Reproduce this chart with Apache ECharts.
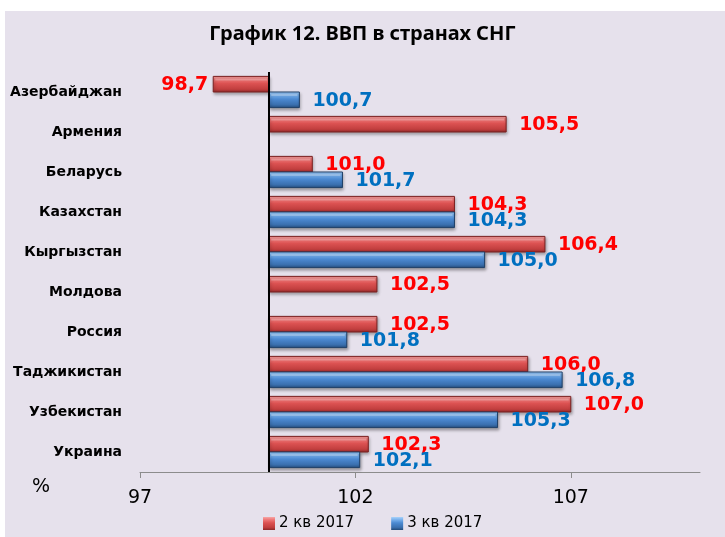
<!DOCTYPE html>
<html>
<head>
<meta charset="utf-8">
<script src="https://cdn.jsdelivr.net/npm/echarts@6/dist/echarts.min.js"></script>
<style>html,body{margin:0;padding:0;background:#fff;}#c{width:725px;height:537px;}</style>
</head>
<body>
<div id="c"></div>
<script>
const categories = ['Азербайджан','Армения','Беларусь','Казахстан','Кыргызстан','Молдова','Россия','Таджикистан','Узбекистан','Украина'];
const q2 = [98.7,105.5,101.0,104.3,106.4,102.5,102.5,106.0,107.0,102.3];
const q3 = [100.7,null,101.7,104.3,105.0,null,101.8,106.8,105.3,102.1];
const baseline = 100;
const xTicks = [97,102,107];
const seriesNames = ['2 кв 2017','3 кв 2017'];

function grad(stops){
  return new echarts.graphic.LinearGradient(0,0,0,1, stops.map((c,i)=>({offset:c[0], color:c[1]})));
}
const redStops = [[0,'#f6a6a6'],[0.18,'#f07c7c'],[0.45,'#dc5252'],[0.8,'#c13e3e'],[1,'#8c2828']];
const blueStops = [[0,'#a9d2fa'],[0.18,'#7db4ee'],[0.45,'#4c8ad2'],[0.8,'#3a6fae'],[1,'#234a78']];

function toData(arr){
  const out = [];
  arr.forEach((v,i)=>{ if(v!==null) out.push([v,i]); });
  return out;
}
function fmt(v){ return v.toFixed(1).replace('.',','); }

function makeRender(top, stops, stroke, labelColor){
  return function(params, api){
    const v = api.value(0), idx = api.value(1);
    const b = api.coord([baseline, idx]);
    const e = api.coord([v, idx]);
    const band = api.size([0,1])[1];
    const h = band*0.39;
    const y0 = top ? b[1]-h : b[1];
    const x0 = Math.min(b[0], e[0]);
    const w = Math.abs(e[0]-b[0]);
    const pos = v >= baseline;
    return {
      type:'group',
      children:[
        {type:'rect', shape:{x:x0,y:y0,width:w,height:h},
         style:{fill:grad(stops), stroke:stroke, lineWidth:1, shadowBlur:3, shadowOffsetY:2, shadowOffsetX:1, shadowColor:'rgba(0,0,0,0.3)'}},
        {type:'rect', shape:{x:x0+2,y:y0+2,width:Math.max(w-4,0),height:2},
         style:{fill:'rgba(255,255,255,0.25)'}},
        {type:'text', x: pos ? e[0]+13 : e[0]-5, y: y0+h/2+1,
         style:{text:fmt(v), fill:labelColor, font:'bold 19px "DejaVu Sans"', align: pos?'left':'right', verticalAlign:'middle'}}
      ]
    };
  };
}

const chart = echarts.init(document.getElementById('c'));
chart.setOption({
  backgroundColor:'#ffffff',
  animation:false,
  graphic:[{type:'rect', z:-10, shape:{x:5,y:11,width:720,height:526}, style:{fill:'#e6e1ec'}},
           {type:'text', left:32, top:478, style:{text:'%', font:'19px "DejaVu Sans"', fill:'#000'}}],
  title:{text:'График 12. ВВП в странах СНГ', left:'center', top:19,
    textStyle:{fontFamily:'"Noto Sans"', fontWeight:'bold', fontSize:20, color:'#000'}},
  legend:{left:263, top:516, padding:0, itemWidth:12, itemHeight:13, itemGap:37,
    textStyle:{fontFamily:'"DejaVu Sans"', fontSize:15, color:'#000', padding:[0,0,0,-1]},
    data:[{name:seriesNames[0], icon:'rect', itemStyle:{color:grad(redStops)}},
          {name:seriesNames[1], icon:'rect', itemStyle:{color:grad(blueStops)}}]},
  grid:{left:140, right:25, top:72, bottom:65, containLabel:false},
  xAxis:{type:'value', min:97, max:110,
    axisLine:{show:true, lineStyle:{color:'#8c8c8c', width:1}},
    axisTick:{show:true, customValues:xTicks, length:6, inside:false, lineStyle:{color:'#8c8c8c'}},
    axisLabel:{customValues:xTicks, margin:17, fontFamily:'"DejaVu Sans"', fontSize:19, color:'#000'},
    splitLine:{show:false}},
  yAxis:{type:'category', data:categories, inverse:true,
    axisLine:{show:false}, axisTick:{show:false},
    axisLabel:{margin:18, fontFamily:'"DejaVu Sans"', fontWeight:'bold', fontSize:14, color:'#000'}},
  series:[
    {name:seriesNames[0], type:'custom', data:toData(q2), encode:{x:0,y:1},
     itemStyle:{color:'#d94c4c'}, renderItem:makeRender(true, redStops, '#7a2020', '#ff0000'),
     markLine:{silent:true, symbol:'none', label:{show:false}, z:10,
       lineStyle:{color:'#000', width:2, type:'solid'}, data:[{xAxis:baseline}]}},
    {name:seriesNames[1], type:'custom', data:toData(q3), encode:{x:0,y:1},
     itemStyle:{color:'#4c8ad2'}, renderItem:makeRender(false, blueStops, '#1f3f66', '#0070c0')}
  ]
});
</script>
</body>
</html>
